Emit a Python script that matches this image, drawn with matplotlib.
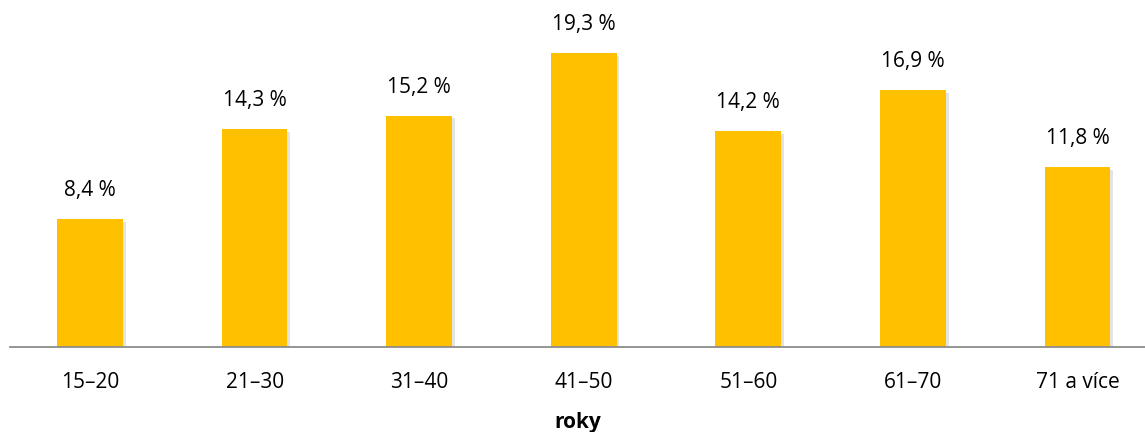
import matplotlib.pyplot as plt
import matplotlib.patheffects as pe

categories = ['15–20', '21–30', '31–40', '41–50', '51–60', '61–70', '71 a více']
values = [8.4, 14.3, 15.2, 19.3, 14.2, 16.9, 11.8]
labels = ['8,4 %', '14,3 %', '15,2 %', '19,3 %', '14,2 %', '16,9 %', '11,8 %']

plt.rcParams['font.family'] = ['Open Sans', 'DejaVu Sans']

fig = plt.figure(figsize=(11.45, 4.32), dpi=100)
ax = fig.add_axes([10 / 1145, 85 / 432, 1 - 10 / 1145, 347 / 432])

x = range(len(categories))
bars = ax.bar(x, values, width=0.4, color='#FFC000', zorder=2)
for b in bars:
    b.set_path_effects([pe.SimplePatchShadow(offset=(2, -2), shadow_rgbFace='#c8c8c8', alpha=0.5), pe.Normal()])

for xi, v, lab in zip(x, values, labels):
    ax.annotate(lab, (xi, v), xytext=(0, 13), textcoords='offset points',
                ha='center', va='bottom', fontsize=15, color='#000000')

ax.set_xlim(-0.486, 6.41)
ax.set_ylim(0, 22.8)
ax.set_xticks(list(x))
ax.set_xticklabels(categories, fontsize=15)
ax.tick_params(axis='x', length=0, pad=18)
ax.set_yticks([])
for s in ['top', 'right', 'left']:
    ax.spines[s].set_visible(False)
ax.spines['bottom'].set_color('#8c8c8c')
ax.spines['bottom'].set_linewidth(1.3)
ax.set_xlabel('roky', fontsize=15, fontweight='bold', labelpad=14)

fig.savefig('out.png', dpi=100)
